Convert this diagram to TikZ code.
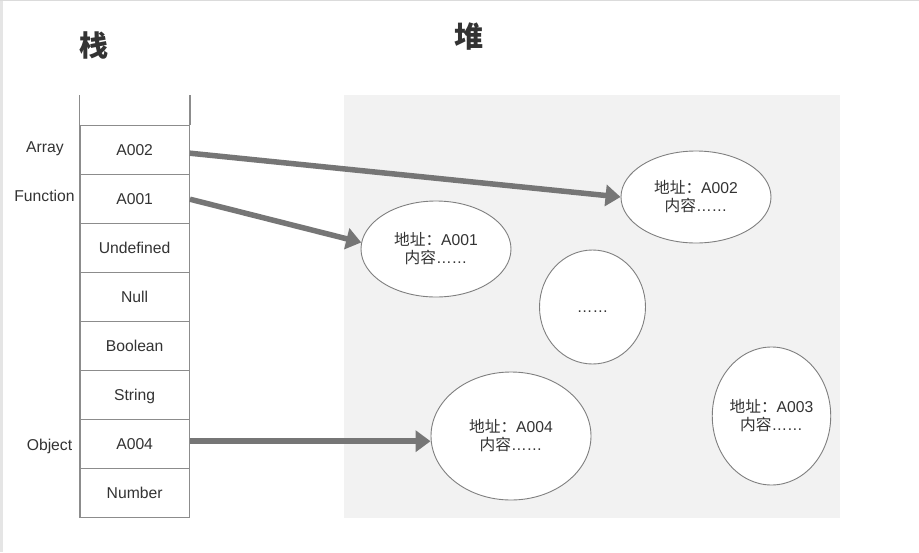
\documentclass[tikz,border=0pt]{standalone}
\usepackage{fontspec}
\setmainfont{Liberation Sans}
\newfontfamily\cjk{Noto Sans CJK SC}
\usetikzlibrary{arrows.meta,shapes.geometric,calc}
\definecolor{txt}{HTML}{333333}
\definecolor{cellline}{HTML}{8C8C8C}
\definecolor{arrowc}{HTML}{767676}
\definecolor{heapbg}{HTML}{F2F2F2}
\definecolor{ellline}{HTML}{7F7F7F}
\tikzset{
  every node/.style={text=txt, font=\fontsize{15.7}{18}\selectfont},
  cell/.style={draw=cellline, line width=1.3pt, fill=white, minimum width=109.3pt, minimum height=49pt, inner sep=0pt, text height=13pt, text depth=2pt},
  heapobj/.style={ellipse, draw=ellline, line width=0.9pt, fill=white, inner sep=0pt, align=center},
  ptr/.style={draw=arrowc, line width=5.5pt, -{Triangle[length=15pt,width=21pt]}},
  title/.style={font=\fontsize{29}{31}\selectfont\bfseries\cjk},
  sidelabel/.style={inner sep=0pt, anchor=base}
}
\begin{document}
\begin{tikzpicture}[x=1pt,y=-1pt]
\useasboundingbox (0,0) rectangle (919,552);
\fill[white] (0,0) rectangle (919,552);
\fill[black!10] (0,0) rectangle (3,552);
\fill[black!14] (0,0) rectangle (919,1);
% heap background
\fill[heapbg] (344,95) rectangle (840,518);
% titles
\node[title] (tstack) at (94,45) {栈};
\node[title] (theap) at (469,37) {堆};
% stack cells
\node[cell] (a002) at (134.65,150.2) {A002};
\node[cell] (a001) at (134.65,199.2) {A001};
\node[cell] (und) at (134.65,248.2) {Undefined};
\node[cell] (nul) at (134.65,297.2) {Null};
\node[cell] (boo) at (134.65,346.2) {Boolean};
\node[cell] (str) at (134.65,395.2) {String};
\node[cell] (a004) at (134.65,444.2) {A004};
\node[cell] (num) at (134.65,493.2) {Number};
\draw[cellline, line width=1.3pt] (a002.north west) -- +(0,-30);
\draw[cellline, line width=1.3pt] (a002.north east) -- +(0,-30);
% side labels
\node[sidelabel] (larr) at (45,152.5) {Array};
\node[sidelabel] (lfun) at (44.5,201) {Function};
\node[sidelabel] (lobj) at (49.5,450) {Object};
% heap objects
\node[heapobj, minimum width=150pt, minimum height=96pt] (e1) at (436,249) {{\cjk 地址：}A001\\{\cjk 内容}……};
\node[heapobj, minimum width=150pt, minimum height=92pt] (e2) at (696,197) {{\cjk 地址：}A002\\{\cjk 内容}……};
\node[heapobj, minimum width=106pt, minimum height=114pt] (e5) at (592.5,307) {\vphantom{A}……};
\node[heapobj, minimum width=160pt, minimum height=128pt] (e4) at (511,436) {{\cjk 地址：}A004\\{\cjk 内容}……};
\node[heapobj, minimum width=111pt, minimum height=138pt] (e3) at (771.5,416) {{\cjk 地址：}A003\\{\cjk 内容}……};
% pointers
\coordinate (s2) at ($(a002.east)+(0,3)$);
\coordinate (s4) at ($(a004.east)+(0,-3)$);
\draw[ptr] (s2) -- (e2.west);
\draw[ptr] (a001.east) -- (e1.175);
\draw[ptr] (s4) -- (s4 -| e4.west);
\end{tikzpicture}
\end{document}
